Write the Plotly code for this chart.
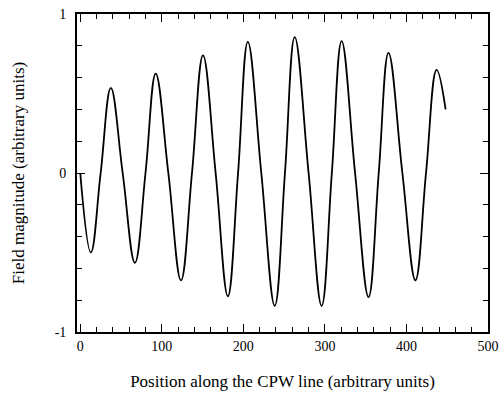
import plotly.graph_objects as go

# Curve points (extrema and zero crossings), in axis units
pos = [0, 13, 25, 37.5, 52, 67, 80, 92.5, 108, 123.5, 137, 150.5, 166, 181, 193.5,
       205.5, 222, 238.5, 251, 263, 280, 296, 308.5, 320.5, 337, 353.5, 366, 378, 395,
       411, 424, 437, 448]
field = [0, -0.50, 0, 0.535, 0, -0.565, 0, 0.625, 0, -0.675, 0, 0.74, 0, -0.775, 0,
         0.825, 0, -0.835, 0, 0.855, 0, -0.835, 0, 0.83, 0, -0.78, 0, 0.755, 0,
         -0.675, 0, 0.648, 0.40]

x_ticks = [0, 100, 200, 300, 400, 500]
y_ticks = [-1, 0, 1]
y_tick_labels = ["-1", "0", "1"]
x_minor = [20, 40, 60, 80, 120, 140, 160, 180, 220, 240, 260, 280,
           320, 340, 360, 380, 420, 440, 460, 480]
y_minor = [-0.8, -0.6, -0.4, -0.2, 0.2, 0.4, 0.6, 0.8]

fig = go.Figure()
fig.add_trace(go.Scatter(x=pos, y=field, mode="lines",
                         line=dict(color="black", width=1.8, shape="spline", smoothing=1.15),
                         hoverinfo="skip", showlegend=False))

font = dict(family="Liberation Serif, Times New Roman, serif", size=14, color="black")

fig.update_layout(
    width=503, height=393,
    margin=dict(l=77, r=15, t=14, b=61),
    paper_bgcolor="white", plot_bgcolor="white",
    font=font,
    xaxis=dict(range=[-4, 500], tickmode="array", tickvals=x_ticks, ticktext=[str(v) for v in x_ticks],
               ticks="inside", ticklen=8, tickwidth=1.2, tickcolor="black",
               automargin=False,
               showline=True, linecolor="black", linewidth=1.8, mirror="ticks",
               showgrid=False, zeroline=False,
               minor=dict(tickmode="array", tickvals=x_minor, ticks="inside", ticklen=5,
                          tickwidth=1, tickcolor="black", showgrid=False),
               title=dict(text="Position along the CPW line (arbitrary units)", standoff=22),
               tickfont=font),
    yaxis=dict(range=[-1, 1], tickmode="array", tickvals=y_ticks, ticktext=y_tick_labels,
               ticks="inside", ticklen=8, tickwidth=1.2, tickcolor="black",
               ticklabelstandoff=6, automargin=False,
               showline=True, linecolor="black", linewidth=1.8, mirror="ticks",
               showgrid=False, zeroline=False,
               minor=dict(tickmode="array", tickvals=y_minor, ticks="inside", ticklen=5,
                          tickwidth=1, tickcolor="black", showgrid=False),
               title=dict(text="Field magnitude (arbitrary units)", standoff=26),
               tickfont=font),
)

fig.write_html("out.html")
